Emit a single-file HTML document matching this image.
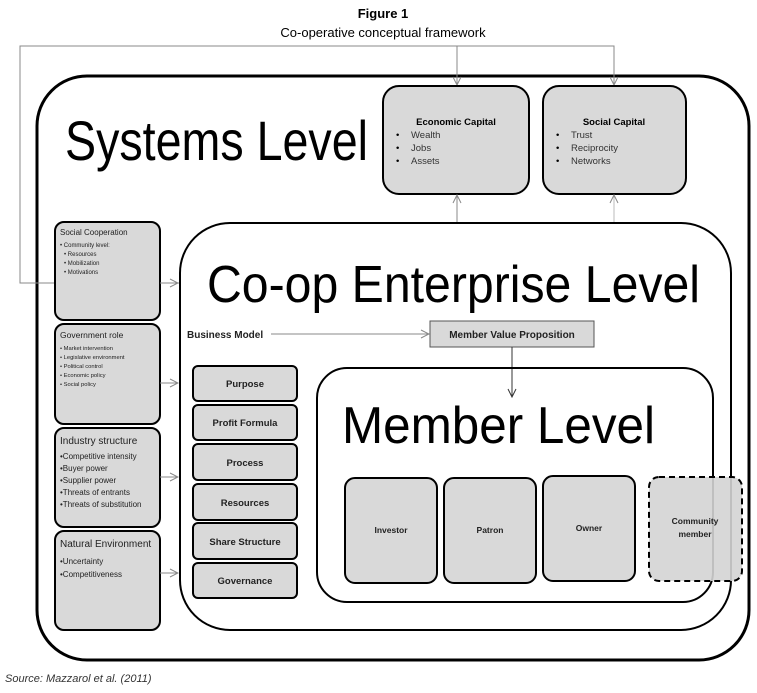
<!DOCTYPE html>
<html><head><meta charset="utf-8"><style>
html,body{margin:0;padding:0;background:#fff;}
svg{display:block;}
text{font-family:"Liberation Sans",sans-serif;}
</style></head><body>
<svg width="757" height="693" viewBox="0 0 757 693" xmlns="http://www.w3.org/2000/svg">
<defs>
<marker id="ar" markerWidth="10" markerHeight="10" refX="9" refY="5" orient="auto" markerUnits="userSpaceOnUse">
<path d="M1,1 L9,5 L1,9" fill="none" stroke="#888" stroke-width="1"/>
</marker>
<marker id="ad" markerWidth="10" markerHeight="10" refX="9" refY="5" orient="auto" markerUnits="userSpaceOnUse">
<path d="M1,1 L9,5 L1,9" fill="none" stroke="#333" stroke-width="1"/>
</marker>
</defs>
<text x="383" y="18" text-anchor="middle" font-size="13" font-weight="bold">Figure 1</text>
<text x="383" y="37" text-anchor="middle" font-size="13">Co-operative conceptual framework</text>

<!-- outer -->
<rect x="37" y="76" width="712" height="584" rx="50" fill="none" stroke="#000" stroke-width="3"/>

<!-- feedback lines -->
<polyline points="180,283 20,283 20,46 614,46 614,85" fill="none" stroke="#888" stroke-width="1" marker-end="url(#ar)"/>
<line x1="457" y1="46" x2="457" y2="85" stroke="#888" stroke-width="1" marker-end="url(#ar)"/>

<text x="65" y="160" font-size="56" textLength="303" lengthAdjust="spacingAndGlyphs">Systems Level</text>

<!-- capitals -->
<rect x="383" y="86" width="146" height="108" rx="16" fill="#d9d9d9" stroke="#000" stroke-width="2"/>
<rect x="543" y="86" width="143" height="108" rx="16" fill="#d9d9d9" stroke="#000" stroke-width="2"/>
<g font-size="9.5">
<text x="456" y="125" text-anchor="middle" font-weight="bold">Economic Capital</text>
<text x="396" y="138">•</text><text x="411" y="138" fill="#333">Wealth</text>
<text x="396" y="151">•</text><text x="411" y="151" fill="#333">Jobs</text>
<text x="396" y="164">•</text><text x="411" y="164" fill="#333">Assets</text>
<text x="614" y="125" text-anchor="middle" font-weight="bold">Social Capital</text>
<text x="556" y="138">•</text><text x="571" y="138" fill="#333">Trust</text>
<text x="556" y="151">•</text><text x="571" y="151" fill="#333">Reciprocity</text>
<text x="556" y="164">•</text><text x="571" y="164" fill="#333">Networks</text>
</g>
<line x1="457" y1="223" x2="457" y2="195" stroke="#888" marker-end="url(#ar)"/>
<line x1="614" y1="223" x2="614" y2="195" stroke="#bbb" marker-end="url(#ar)"/>

<!-- enterprise -->
<rect x="180" y="223" width="551" height="407" rx="50" fill="none" stroke="#000" stroke-width="2"/>
<text x="207" y="302" font-size="52" textLength="493" lengthAdjust="spacingAndGlyphs">Co-op Enterprise Level</text>

<!-- left boxes -->
<g fill="#d9d9d9" stroke="#000" stroke-width="2">
<rect x="55" y="222" width="105" height="98" rx="9"/>
<rect x="55" y="324" width="105" height="100" rx="9"/>
<rect x="55" y="428" width="105" height="99" rx="9"/>
<rect x="55" y="531" width="105" height="99" rx="9"/>
</g>
<g fill="#222">
<text x="60" y="235" font-size="8">Social Cooperation</text>
<text x="60" y="247" font-size="6">• Community level:</text>
<text x="64" y="256" font-size="6">• Resources</text>
<text x="64" y="265" font-size="6">• Mobilization</text>
<text x="64" y="274" font-size="6">• Motivations</text>
<text x="60" y="338" font-size="8.5">Government role</text>
<text x="60" y="350" font-size="5.8">• Market intervention</text>
<text x="60" y="359" font-size="5.8">• Legislative environment</text>
<text x="60" y="368" font-size="5.8">• Political control</text>
<text x="60" y="377" font-size="5.8">• Economic policy</text>
<text x="60" y="386" font-size="5.8">• Social policy</text>
<text x="60" y="444" font-size="10">Industry structure</text>
<text x="60" y="459" font-size="8">•Competitive intensity</text>
<text x="60" y="471" font-size="8">•Buyer power</text>
<text x="60" y="483" font-size="8">•Supplier power</text>
<text x="60" y="495" font-size="8">•Threats of entrants</text>
<text x="60" y="507" font-size="8">•Threats of substitution</text>
<text x="60" y="547" font-size="10">Natural Environment</text>
<text x="60" y="564" font-size="8">•Uncertainty</text>
<text x="60" y="577" font-size="8">•Competitiveness</text>
</g>
<g stroke="#888">
<line x1="160" y1="283" x2="178" y2="283" marker-end="url(#ar)"/>
<line x1="160" y1="383" x2="178" y2="383" marker-end="url(#ar)"/>
<line x1="160" y1="477" x2="178" y2="477" marker-end="url(#ar)"/>
<line x1="160" y1="573" x2="178" y2="573" marker-end="url(#ar)"/>
</g>

<!-- business model -->
<text x="187" y="338" font-size="10" font-weight="bold" fill="#222">Business Model</text>
<line x1="271" y1="334" x2="429" y2="334" stroke="#888" marker-end="url(#ar)"/>
<rect x="430" y="321" width="164" height="26" fill="#d9d9d9" stroke="#555" stroke-width="1"/>
<text x="512" y="338" font-size="10" font-weight="bold" text-anchor="middle" fill="#222">Member Value Proposition</text>
<line x1="512" y1="347" x2="512" y2="397" stroke="#333" marker-end="url(#ad)"/>

<g fill="#d9d9d9" stroke="#000" stroke-width="2">
<rect x="193" y="366" width="104" height="35" rx="5"/>
<rect x="193" y="405" width="104" height="35" rx="5"/>
<rect x="193" y="444" width="104" height="36" rx="5"/>
<rect x="193" y="484" width="104" height="36" rx="5"/>
<rect x="193" y="523" width="104" height="36" rx="5"/>
<rect x="193" y="563" width="104" height="35" rx="5"/>
</g>
<g font-size="9.5" font-weight="bold" text-anchor="middle" fill="#222">
<text x="245" y="387">Purpose</text>
<text x="245" y="426">Profit Formula</text>
<text x="245" y="466">Process</text>
<text x="245" y="506">Resources</text>
<text x="245" y="545">Share Structure</text>
<text x="245" y="584">Governance</text>
</g>

<!-- member level -->
<rect x="317" y="368" width="396" height="234" rx="30" fill="none" stroke="#000" stroke-width="2"/>
<text x="342" y="443" font-size="52" textLength="313" lengthAdjust="spacingAndGlyphs">Member Level</text>
<g fill="#d9d9d9" stroke="#000" stroke-width="2">
<rect x="345" y="478" width="92" height="105" rx="10"/>
<rect x="444" y="478" width="92" height="105" rx="10"/>
<rect x="543" y="476" width="92" height="105" rx="10"/>
</g>
<rect x="649" y="477" width="93" height="104" rx="10" fill="#d4d4d4" fill-opacity="0.9" stroke="#000" stroke-width="2" stroke-dasharray="6,4"/>
<g font-size="8.5" font-weight="bold" text-anchor="middle" fill="#222">
<text x="391" y="533">Investor</text>
<text x="490" y="533">Patron</text>
<text x="589" y="531">Owner</text>
<text x="695" y="524">Community</text>
<text x="695" y="537">member</text>
</g>

<text x="5" y="682" font-size="11" font-style="italic" fill="#333">Source: Mazzarol et al. (2011)</text>
</svg>
</body></html>
